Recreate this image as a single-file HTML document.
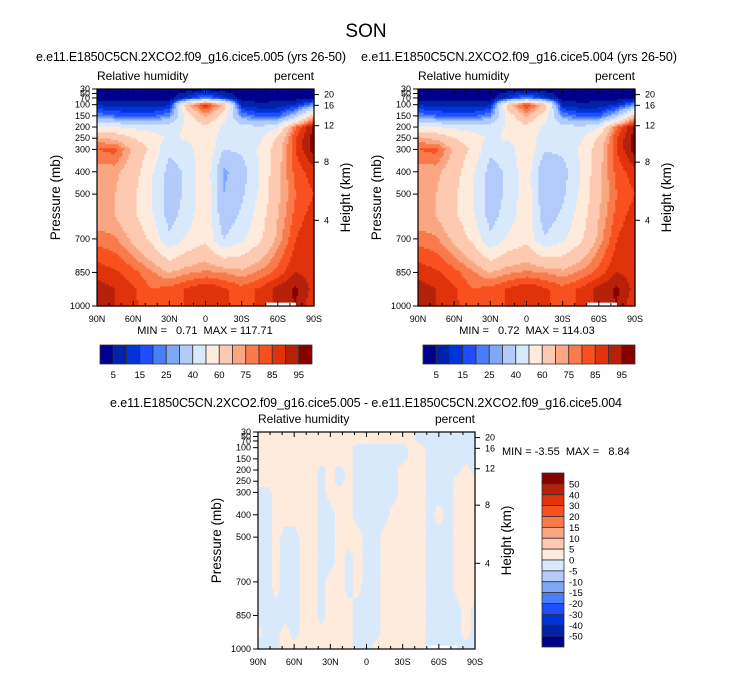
<!DOCTYPE html>
<html><head><meta charset="utf-8"><style>
body{margin:0;background:#fff}
svg{display:block;font-family:"Liberation Sans",Arial,sans-serif}
</style></head><body>
<svg id="fig" width="733" height="673" viewBox="0 0 733 673">
<text x="366" y="37" font-size="19" text-anchor="middle">SON</text>
<text x="191" y="61" font-size="12.5" text-anchor="middle" textLength="310">e.e11.E1850C5CN.2XCO2.f09_g16.cice5.005 (yrs 26-50)</text>
<text x="519" y="61" font-size="12.5" text-anchor="middle" textLength="316">e.e11.E1850C5CN.2XCO2.f09_g16.cice5.004 (yrs 26-50)</text>
<text x="366" y="407" font-size="12.5" text-anchor="middle" textLength="512">e.e11.E1850C5CN.2XCO2.f09_g16.cice5.005 - e.e11.E1850C5CN.2XCO2.f09_g16.cice5.004</text>
<g id="panels"></g>
</svg>
<script>
// pressure levels (mb) of data grid rows
const presLevels=[30,70,100,150,200,250,300,400,500,600,700,850,925,1000];
// latitudes 90N..90S, 15 deg step (top panels)
const latsMean=[90,75,60,45,30,15,0,-15,-30,-45,-60,-75,-90];
// latitudes 90N..90S, 7.5 deg step (difference panel)
const latsDiff=[90,82.5,75,67.5,60,52.5,45,37.5,30,22.5,15,7.5,0,-7.5,-15,-22.5,-30,-37.5,-45,-52.5,-60,-67.5,-75,-82.5,-90];
// RH contour levels
const rhLevels=[5,10,15,20,25,30,40,50,60,70,75,80,85,90,95];
const rhLabels=["5","15","25","40","60","75","85","95"];
const diffLevels=[-50,-40,-30,-20,-15,-10,-5,0,5,10,15,20,30,40,50];
const diffLabels=["50","40","30","20","15","10","5","0","-5","-10","-15","-20","-30","-40","-50"];
const pTicks=[30,50,70,100,150,200,250,300,400,500,700,850,1000];
const hTicks=["20","16","12","8","4"];
const hTickPres=[55,103,194,357,617];
const xTickLabels=["90N","60N","30N","0","30S","60S","90S"];
// RH, case 005 (rows = presLevels, cols = latsMean)
const rhCase005=[
[2,2,2,2,2,2,3,2,2,2,2,2,3],
[3,3,3,3,3,12,25,12,3,3,3,3,5],
[9,8,7,7,9,70,88,70,8,6,7,10,25],
[24,20,18,18,25,55,72,55,25,18,18,35,70],
[52,50,48,46,45,52,58,48,45,42,48,80,96],
[72,68,60,55,48,52,58,45,45,48,62,85,98],
[80,82,68,58,42,45,60,40,42,52,65,85,98],
[72,72,65,52,36,42,58,28,35,50,68,82,88],
[70,70,62,50,35,42,58,30,38,52,68,80,85],
[70,70,62,52,36,45,58,33,42,55,70,82,88],
[78,76,68,58,42,52,58,40,48,58,72,85,90],
[88,86,82,76,70,74,76,75,72,76,82,90,88],
[93,90,86,80,82,86,90,86,82,86,92,96,88],
[95,90,86,83,82,86,88,86,83,86,92,95,85]];
// RH, case 004
const rhCase004=[
[2,2,2,2,2,2,3,2,2,2,2,2,3],
[3,3,3,3,3,12,24,12,3,3,3,3,5],
[9,8,7,7,9,68,86,68,8,6,7,10,25],
[24,20,18,18,25,55,71,55,25,18,18,35,69],
[52,50,48,46,45,52,57,48,45,42,48,80,96],
[72,68,60,55,48,52,57,45,45,48,62,85,98],
[80,82,68,58,42,45,59,41,42,52,65,85,98],
[72,72,65,52,36,42,57,30,36,50,68,82,88],
[70,70,62,50,35,42,57,32,38,52,68,80,85],
[70,70,62,52,36,45,57,34,42,55,70,82,88],
[78,76,68,58,42,52,57,41,48,58,72,85,90],
[88,86,82,76,70,74,76,75,72,76,82,90,88],
[93,90,86,80,82,86,90,86,82,86,92,96,88],
[95,90,86,83,82,86,88,86,83,86,92,95,85]];
// difference 005-004 (one list per latsDiff column, values top->bottom over presLevels)
const rhDiffCols=[
[1,1,1,1,1,1,-1,-1,-1,-1,-1,-1,1,-1],
[1,1,1,1,1,1,-1,-1,-1,-1,-1,-1,-1,-1],
[1,1,1,1,1,1,1,1,1,1,1,-1,-1,-1],
[1,1,1,1,1,1,1,1,-1,-1,-1,-1,1,1],
[1,1,1,1,1,1,1,1,-1,-1,-1,-1,-1,1],
[1,1,1,1,1,1,1,1,1,1,1,1,1,1],
[1,1,1,1,1,1,1,1,1,1,1,1,1,1],
[1,1,1,1,-1,-1,-1,-1,-1,-1,-1,-1,1,1],
[1,1,1,1,1,1,1,-1,-1,-1,1,1,1,1],
[1,1,1,1,-1,-1,1,1,1,1,1,1,1,1],
[1,1,1,1,1,1,1,1,1,-1,-1,1,1,1],
[1,1,-1,-1,-1,-1,-1,-1,1,1,1,-1,-1,-1],
[1,1,-1,-1,-1,-1,-1,-1,-1,-1,-1,-1,-1,-1],
[1,1,-1,-1,-1,-1,-1,-1,-1,-1,-1,-1,-1,1],
[1,1,-1,-1,-1,-1,-1,-1,1,1,1,1,1,1],
[1,1,-1,-1,-1,-1,-1,1,1,1,1,1,1,1],
[1,1,-1,-1,1,1,1,1,1,1,1,1,1,1],
[1,1,1,1,1,1,1,1,1,1,1,1,1,1],
[-1,-1,1,1,1,1,1,1,1,1,1,1,1,1],
[-1,-1,-1,-1,-1,-1,-1,-1,-1,-1,-1,-1,-1,-1],
[-1,-1,-1,-1,-1,-1,-1,1,-1,-1,-1,-1,-1,-1],
[-1,-1,-1,-1,-1,-1,-1,-1,-1,-1,-1,-1,-1,-1],
[-1,-1,-1,-1,-1,1,1,1,1,1,1,-1,-1,-1],
[-1,-1,-1,-1,1,1,1,1,1,1,1,1,1,-1],
[-1,-1,-1,-1,-1,1,1,1,1,1,1,-1,-1,-1]];
const statsLeft="MIN =\u00a0\u00a0\u00a00.71\u00a0\u00a0MAX = 117.71";
const statsRight="MIN =\u00a0\u00a0\u00a00.72\u00a0\u00a0MAX = 114.03";
const statsDiff="MIN = -3.55\u00a0\u00a0MAX =\u00a0\u00a0 8.84";

const palette=['#00008c','#0022a8','#0033d9','#1f4cff','#4a7ef7','#7fa7f7','#b2cbfa','#d8e9fc','#feebdc','#fdcab1','#fba683','#f97a4a','#f8501f','#e0320b','#b5210a','#870000'];
const NS="http://www.w3.org/2000/svg";
const root=document.getElementById('panels');
function mk(tag,attrs,parent){const e=document.createElementNS(NS,tag);for(const k in attrs)e.setAttribute(k,attrs[k]);(parent||root).appendChild(e);return e;}
function colorFor(v,levels){let i=0;while(i<levels.length&&v>=levels[i])i++;return palette[i];}
function interp(grid,lats,lat,p){
  let fi=(lats[0]-lat)/(lats[0]-lats[lats.length-1])*(lats.length-1);
  fi=Math.max(0,Math.min(lats.length-1.0001,fi));
  let k=0;while(k<presLevels.length-2&&p>presLevels[k+1])k++;
  let fk=(p-presLevels[k])/(presLevels[k+1]-presLevels[k]);fk=Math.max(0,Math.min(1,fk));
  const i=Math.floor(fi),t=fi-i;
  const a=grid[k][i]*(1-t)+grid[k][i+1]*t;
  const b=grid[k+1][i]*(1-t)+grid[k+1][i+1]*t;
  return a*(1-fk)+b*fk;
}
function panel(name,x0,y0,W,H,grid,lats,levels){
  const g=mk('g',{});
  
  
  const xS=lat=>x0+(90-lat)/180*W;
  const yS=p=>y0+(p-30)/970*H;
  const N=110,cw=W/N,ch=H/N;
  for(let r=0;r<N;r++){
    const p=30+(r+0.5)/N*970;
    let start=0,cur=null;
    for(let c=0;c<=N;c++){
      let col=null;
      if(c<N){const lat=90-(c+0.5)/N*180;col=colorFor(interp(grid,lats,lat,p),levels);}
      if(col!==cur){
        if(cur!==null){const rc=mk('rect',{x:(x0+start*cw).toFixed(2),y:(y0+r*ch).toFixed(2),width:((c-start)*cw+0.6).toFixed(2),height:(ch+0.6).toFixed(2),fill:cur},g);
          
          }
        start=c;cur=col;
      }
    }
  }
  const wp=mk('rect',{x:xS(-50),y:yS(985),width:xS(-75)-xS(-50),height:yS(1000)-yS(985),fill:'#fff'},g);
  
  
  const fr=mk('rect',{x:x0,y:y0,width:W,height:H,fill:'none',stroke:'#000','stroke-width':1.2},g);
  
  
  for(let lat=90;lat>=-90;lat-=10){
    const x=xS(lat),major=(lat%30===0),L=major?5:3;
    mk('line',{x1:x,y1:y0+H,x2:x,y2:y0+H-L,stroke:'#000','stroke-width':1},g);
    mk('line',{x1:x,y1:y0,x2:x,y2:y0+L,stroke:'#000','stroke-width':1},g);
  }
  xTickLabels.forEach((s,i)=>{const t=mk('text',{x:xS(90-30*i),y:y0+H+16,'font-size':9,'text-anchor':'middle'},g);t.textContent=s;
    
    });
  pTicks.forEach(p=>{const y=yS(p);mk('line',{x1:x0-5,y1:y,x2:x0,y2:y,stroke:'#000','stroke-width':1},g);
    const t=mk('text',{x:x0-7,y:y+3,'font-size':9,'text-anchor':'end'},g);t.textContent=p;
    
    });
  hTicks.forEach((s,i)=>{const y=yS(hTickPres[i]);mk('line',{x1:x0+W,y1:y,x2:x0+W+5,y2:y,stroke:'#000','stroke-width':1},g);
    const t=mk('text',{x:x0+W+10,y:y+3,'font-size':9},g);t.textContent=s;
    
    });
  const py=mk('text',{x:0,y:0,'font-size':13.5,'text-anchor':'middle',transform:`translate(${x0-37},${y0+H/2}) rotate(-90)`},g);py.textContent='Pressure (mb)';
  
  
  const hy=mk('text',{x:0,y:0,'font-size':13.5,'text-anchor':'middle',transform:`translate(${x0+W+36},${y0+H/2}) rotate(-90)`},g);hy.textContent='Height (km)';
  
  
  const lt=mk('text',{x:x0,y:y0-9,'font-size':12},g);lt.textContent='Relative humidity';
  
  
  const rt=mk('text',{x:x0+W,y:y0-9,'font-size':12,'text-anchor':'end'},g);rt.textContent='percent';
  
  
}
function hColorbar(name,x0,y0,W,H){
  const g=mk('g',{});
  
  
  const bw=W/16;
  palette.forEach((c,i)=>{const r=mk('rect',{x:x0+i*bw,y:y0,width:bw,height:H,fill:c,stroke:'#333','stroke-width':0.8},g);
    
    });
  rhLabels.forEach((s,i)=>{const t=mk('text',{x:x0+(1+2*i)*bw,y:y0+H+14,'font-size':9.5,'text-anchor':'middle'},g);t.textContent=s;
    
    });
}
function vColorbar(name,x0,y0,W,H){
  const g=mk('g',{});
  
  
  const bh=H/16;
  palette.slice().reverse().forEach((c,i)=>{const r=mk('rect',{x:x0,y:y0+i*bh,width:W,height:bh,fill:c,stroke:'#333','stroke-width':0.8},g);
    
    });
  diffLabels.forEach((s,i)=>{const t=mk('text',{x:x0+W+5,y:y0+(i+1)*bh+3.5,'font-size':9.5},g);t.textContent=s;
    
    });
}
function label(name,x,y,s,anchor){const t=mk('text',{x:x,y:y,'font-size':11,'text-anchor':anchor||'middle'});t.textContent=s;
  
  }

const rhDiff=presLevels.map((_,k)=>rhDiffCols.map(col=>col[k]));

panel('left-contour-panel',97,89,217,217,rhCase005,latsMean,rhLevels);
panel('right-contour-panel',418,89,217,217,rhCase004,latsMean,rhLevels);
panel('diff-contour-panel',258,432,217,217,rhDiff,latsDiff,diffLevels);
label('left-min-max',205,334,statsLeft);
label('right-min-max',527,334,statsRight);
label('diff-min-max',502,455,statsDiff,'start');
hColorbar('left-colorbar',100,345,212,19);
hColorbar('right-colorbar',423,345,212,19);
vColorbar('diff-colorbar',542,473,22,174);
</script>
</body></html>
